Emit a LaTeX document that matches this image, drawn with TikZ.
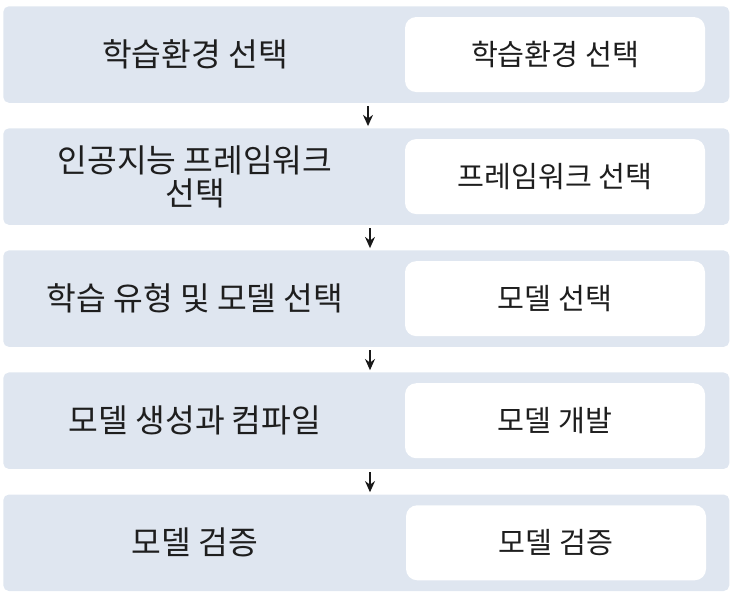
\documentclass[tikz,border=0pt]{standalone}
\usepackage{fontspec}
\setmainfont{Noto Sans CJK KR}
\usepackage{xcolor}
\usetikzlibrary{arrows.meta,positioning}
\definecolor{rowfill}{HTML}{DFE6F0}
\definecolor{txt}{HTML}{1E1E1E}

\begin{document}
\begin{tikzpicture}[
  node distance=0.625cm,
  stage/.style={rectangle, rounded corners=4pt, fill=rowfill, draw=none,
                minimum width=18.15cm, minimum height=2.4125cm},
  tool/.style={rectangle, rounded corners=8pt, fill=white, draw=none,
               minimum width=7.5cm, minimum height=1.875cm, text=txt,
               font=\fontsize{20.8}{24}\selectfont},
  label/.style={align=center, text=txt, font=\fontsize{23}{23.5}\selectfont},
  arrow/.style={-{Stealth[length=2.8mm,width=2.5mm]}, line width=0.9pt, draw=black!90}
]
\useasboundingbox (0,0) rectangle (18.3,-14.85);
\node[stage, anchor=north west] (s1) at (0.075,-0.15) {};
\node[stage, below=of s1] (s2) {};
\node[stage, below=of s2] (s3) {};
\node[stage, below=of s3] (s4) {};
\node[stage, below=of s4] (s5) {};
\node[label] (l1) at (4.875,0 |- s1.center) {학습환경 선택};
\node[label] (l2) at (4.875,0 |- s2.center) {인공지능 프레임워크\\선택};
\node[label] (l3) at (4.875,0 |- s3.center) {학습 유형 및 모델 선택};
\node[label] (l4) at (4.875,0 |- s4.center) {모델 생성과 컴파일};
\node[label] (l5) at (4.875,0 |- s5.center) {모델 검증};
\node[tool] (t1) at (13.875,0 |- s1.center) {학습환경 선택};
\node[tool] (t2) at (13.875,0 |- s2.center) {프레임워크 선택};
\node[tool] (t3) at (13.875,0 |- s3.center) {모델 선택};
\node[tool] (t4) at (13.875,0 |- s4.center) {모델 개발};
\node[tool] (t5) at (13.9,0 |- s5.center) {모델 검증};
\draw[arrow] ([yshift=-0.075cm]s1.south -| 9.2,0) -- ([yshift=0.05cm]s2.north -| 9.2,0);
\draw[arrow] ([yshift=-0.075cm]s2.south -| 9.25,0) -- ([yshift=0.05cm]s3.north -| 9.25,0);
\draw[arrow] ([yshift=-0.075cm]s3.south -| 9.25,0) -- ([yshift=0.05cm]s4.north -| 9.25,0);
\draw[arrow] ([yshift=-0.075cm]s4.south -| 9.25,0) -- ([yshift=0.05cm]s5.north -| 9.25,0);
\end{tikzpicture}
\end{document}
